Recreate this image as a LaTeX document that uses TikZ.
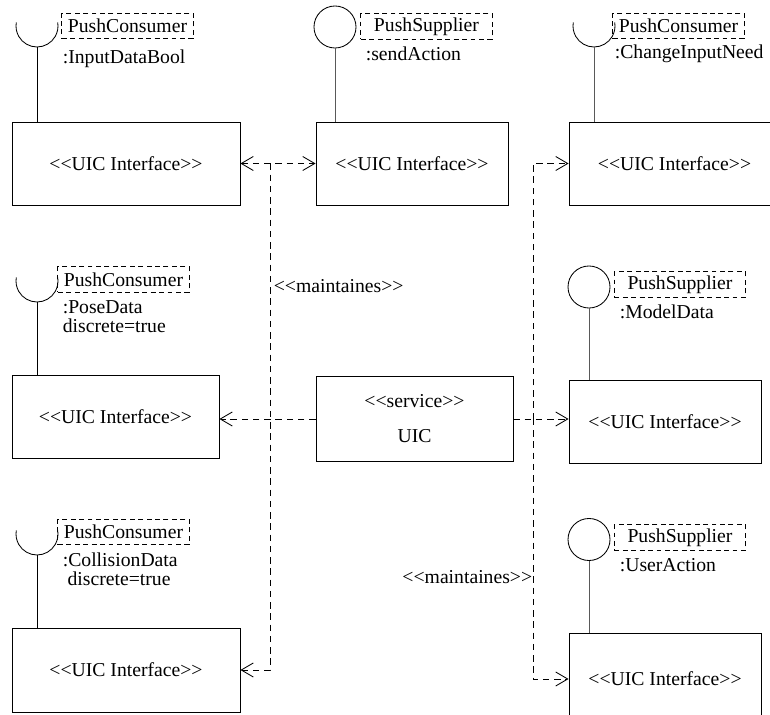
\documentclass[tikz,border=0pt]{standalone}
\usepackage{fontspec}
\setmainfont{Liberation Serif}
\usetikzlibrary{arrows.meta, positioning}
\tikzset{
  every picture/.style={line width=0.6pt, font=\fontsize{14}{16}\selectfont},
  iface/.style={draw, minimum width=#1, minimum height=2.075cm, inner sep=0pt},
  iface/.default=4.8cm,
  tag/.style={draw, dash pattern=on 3.5pt off 2.5pt, minimum width=3.28cm, minimum height=0.63cm, inner sep=0pt},
  ball/.style={circle, draw, minimum size=1.05cm, inner sep=0pt},
  stem/.style={draw=black!65},
  dep/.style={dash pattern=on 4.5pt off 3.5pt},
  arr/.style={-{Straight Barb[length=3mm, width=3.5mm]}},
  arrs/.style={{Straight Barb[length=3mm, width=3.5mm]}-{Straight Barb[length=3mm, width=3.5mm]}},
  note/.style={anchor=west, align=left, inner sep=1pt, font=\fontsize{14}{13.5}\selectfont},
}

\begin{document}
\begin{tikzpicture}[x=0.025cm, y=0.025cm]
  \clip (0,0) rectangle (770,-715);
  % interface boxes
  \node[iface=5.7cm] (inBool) at (126,-163.5) {<{}<UIC Interface>{}>};
  \node[iface] (outAction) at (412,-163.5) {<{}<UIC Interface>{}>};
  \node[iface=5.275cm] (inNeed) at (674.5,-163.5) {<{}<UIC Interface>{}>};
  \node[iface=5.175cm] (inPose) at (115.5,-416.5) {<{}<UIC Interface>{}>};
  \node[iface=4.925cm, minimum height=2.125cm, align=center] (uic) at (414.5,-419) {<{}<service>{}>\\[9pt]UIC};
  \node[iface] (outModel) at (665,-421.5) {<{}<UIC Interface>{}>};
  \node[iface=5.7cm, minimum height=2.1cm] (inColl) at (126,-670) {<{}<UIC Interface>{}>};
  \node[iface, minimum height=2.3cm] (outUser) at (665,-679) {<{}<UIC Interface>{}>};

  % sockets (required)
  \coordinate (skBool) at (37,-47);
  \draw (skBool) arc[start angle=270, end angle=370, radius=21] (skBool) arc[start angle=270, end angle=170, radius=21];
  \draw (skBool) -- (skBool |- inBool.north);
  \coordinate (skNeed) at (594,-47);
  \draw (skNeed) arc[start angle=270, end angle=370, radius=21] (skNeed) arc[start angle=270, end angle=170, radius=21];
  \draw[stem] (skNeed) -- (skNeed |- inNeed.north);
  \coordinate (skPose) at (37,-302);
  \draw (skPose) arc[start angle=270, end angle=370, radius=21] (skPose) arc[start angle=270, end angle=170, radius=21];
  \draw (skPose) -- (skPose |- inPose.north);
  \coordinate (skColl) at (37,-555);
  \draw (skColl) arc[start angle=270, end angle=370, radius=21] (skColl) arc[start angle=270, end angle=170, radius=21];
  \draw (skColl) -- (skColl |- inColl.north);

  % lollipops (provided)
  \node[ball] (blAction) at (335,-27) {};
  \draw[stem] (blAction) -- (blAction |- outAction.north);
  \node[ball] (blModel) at (589,-287) {};
  \draw[stem] (blModel) -- (blModel |- outModel.north);
  \node[ball] (blUser) at (589,-539.5) {};
  \draw[stem] (blUser) -- (blUser |- outUser.north);

  % tags
  \node[tag] (tBool) at (127.5,-26) {PushConsumer};
  \node[note] (nBool) at (61,-59) {:InputDataBool};
  \node[tag] (tAction) at (426.5,-26.5) {PushSupplier};
  \node[note] (nAction) at (364,-54) {:sendAction};
  \node[tag] (tNeed) at (678.5,-26) {PushConsumer};
  \node[note] (nNeed) at (613,-54) {:ChangeInputNeed};
  \node[tag] (tPose) at (123.5,-279.5) {PushConsumer};
  \node[note] (nPose) at (61,-316.5) {:PoseData\\discrete=true};
  \node[tag] (tModel) at (680,-284.5) {PushSupplier};
  \node[note] (nModel) at (618,-312) {:ModelData};
  \node[tag] (tColl) at (123.5,-532) {PushConsumer};
  \node[note] (nColl) at (61,-569.5) {:CollisionData\\\hspace*{0.12cm}discrete=true};
  \node[tag] (tUser) at (680,-537.5) {PushSupplier};
  \node[note] (nUser) at (618,-565) {:UserAction};

  % dependencies
  \draw[dep, arrs] (inBool.east) -- (outAction.west);
  \coordinate (ltrunk) at (270,-163.5);
  \draw[dep, arr] (ltrunk) |- (inColl.east);
  \draw[dep, arr] (uic.west) -- (uic.west -| inPose.east);
  \coordinate (rtrunk) at (533,-419);
  \draw[dep, arr] (uic.east) -- (uic.east -| outModel.west);
  \draw[dep, arr] (rtrunk) |- (inNeed.west);
  \draw[dep, arr] (rtrunk) |- (outUser.west);
  \node[note] (mtLeft) at (272,-286) {<{}<maintaines>{}>};
  \node[anchor=east, inner sep=1pt] (mtRight) at (534,-577) {<{}<maintaines>{}>};
\end{tikzpicture}
\end{document}
